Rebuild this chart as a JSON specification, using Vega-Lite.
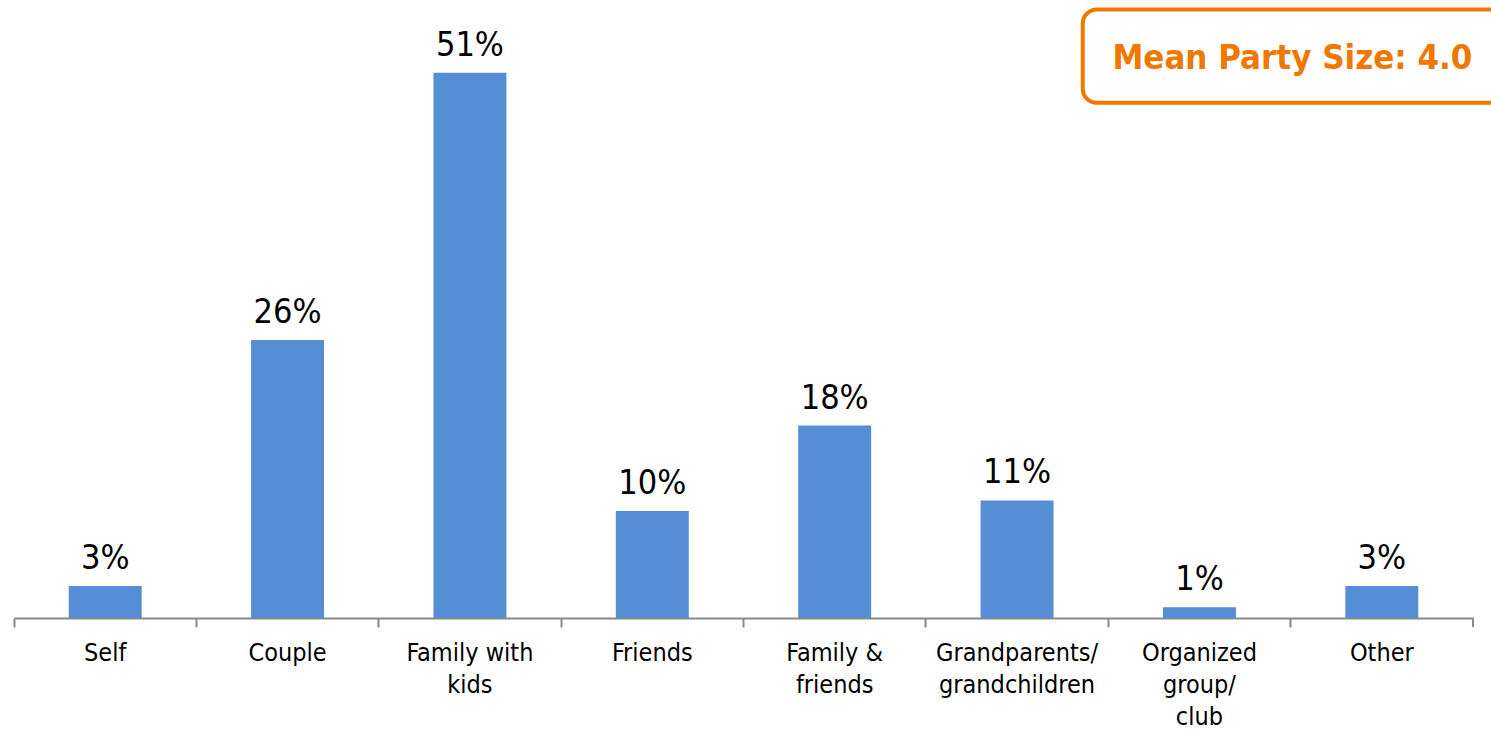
{
  "$schema": "https://vega.github.io/schema/vega-lite/v6.json",
  "width": 1459,
  "height": 618,
  "autosize": {"type": "none"},
  "padding": {"left": 14, "top": 0, "right": 18, "bottom": 111},
  "background": "white",
  "config": {"view": {"stroke": null}, "font": "DejaVu Sans Condensed"},
  "datasets": {
    "bars": [
      {"group": "Self", "pct": 0.03},
      {"group": "Couple", "pct": 0.26},
      {"group": "Family with|kids", "pct": 0.51},
      {"group": "Friends", "pct": 0.10},
      {"group": "Family &|friends", "pct": 0.18},
      {"group": "Grandparents/|grandchildren", "pct": 0.11},
      {"group": "Organized|group/|club", "pct": 0.01},
      {"group": "Other", "pct": 0.03}
    ],
    "note": [
      {"left": "Grandparents/|grandchildren", "right": "Other", "center": "Other", "top": 0.569, "bottom": 0.482, "mid": 0.523, "text": "Mean Party Size: 4.0"}
    ],
    "endtick": [{"group": "Other", "y0": 0, "y1": -0.0085}]
  },
  "layer": [
    {
      "data": {"name": "bars"},
      "mark": {"type": "bar", "color": "#558ed5", "width": {"band": 0.4}},
      "encoding": {
        "x": {
          "field": "group", "type": "nominal", "sort": null,
          "scale": {"paddingInner": 0, "paddingOuter": 0},
          "axis": {
            "title": null, "labelAngle": 0, "bandPosition": 0,
            "labelExpr": "split(datum.label, '|')",
            "labelFontSize": 25, "labelColor": "#000000", "labelLineHeight": 32,
            "labelPadding": 13, "labelBaseline": "top",
            "domainColor": "#898989", "domainWidth": 2,
            "tickColor": "#898989", "tickWidth": 2, "tickSize": 9,
            "labelFont": "DejaVu Sans Condensed"
          }
        },
        "y": {
          "field": "pct", "type": "quantitative",
          "scale": {"domain": [0, 0.578], "nice": false, "zero": true},
          "axis": null
        }
      }
    },
    {
      "data": {"name": "bars"},
      "mark": {"type": "text", "baseline": "alphabetic", "dy": -17, "fontSize": 34, "color": "#000000", "font": "DejaVu Sans Condensed"},
      "encoding": {
        "x": {"field": "group", "type": "nominal", "sort": null},
        "y": {"field": "pct", "type": "quantitative"},
        "text": {"field": "pct", "type": "quantitative", "format": ".0%"}
      }
    },
    {
      "data": {"name": "endtick"},
      "mark": {"type": "rule", "color": "#898989", "strokeWidth": 2},
      "encoding": {
        "x": {"field": "group", "type": "nominal", "sort": null, "bandPosition": 1},
        "y": {"field": "y0", "type": "quantitative"},
        "y2": {"field": "y1"}
      }
    },
    {
      "data": {"name": "note"},
      "mark": {"type": "rect", "fill": "white", "stroke": "#f07800", "strokeWidth": 4, "cornerRadius": 14},
      "encoding": {
        "x": {"field": "left", "type": "nominal", "sort": null, "bandPosition": 0.86},
        "x2": {"field": "right", "bandPosition": 1.2},
        "y": {"field": "top", "type": "quantitative"},
        "y2": {"field": "bottom"}
      }
    },
    {
      "data": {"name": "note"},
      "mark": {"type": "text", "fontSize": 34.5, "fontWeight": "bold", "color": "#f07800", "baseline": "middle", "align": "center", "font": "DejaVu Sans Condensed"},
      "encoding": {
        "x": {"field": "center", "type": "nominal", "sort": null, "bandPosition": 0.01},
        "y": {"field": "mid", "type": "quantitative"},
        "text": {"field": "text"}
      }
    }
  ]
}
